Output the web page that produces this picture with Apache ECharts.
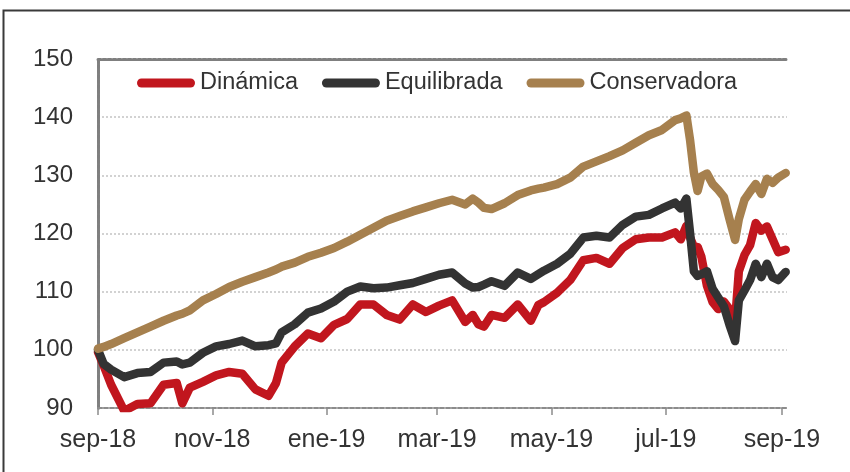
<!DOCTYPE html>
<html>
<head>
<meta charset="utf-8">
<script src="https://cdn.jsdelivr.net/npm/echarts@6/dist/echarts.min.js"></script>
<style>
  html, body { margin: 0; padding: 0; background: #fff; }
  #chart { width: 850px; height: 472px; }
</style>
</head>
<body>
<div id="chart"></div>
<script>
const dates = [
  "2018-09-01", "2018-09-04", "2018-09-08", "2018-09-15", "2018-09-22",
  "2018-09-29", "2018-10-06", "2018-10-13", "2018-10-16", "2018-10-20",
  "2018-10-27", "2018-11-03", "2018-11-10", "2018-11-17", "2018-11-24",
  "2018-12-01", "2018-12-05", "2018-12-08", "2018-12-15", "2018-12-22",
  "2018-12-29", "2019-01-05", "2019-01-12", "2019-01-19", "2019-01-26",
  "2019-02-02", "2019-02-09", "2019-02-16", "2019-02-23", "2019-03-02",
  "2019-03-09", "2019-03-16", "2019-03-20", "2019-03-23", "2019-03-26",
  "2019-03-30", "2019-04-06", "2019-04-13", "2019-04-20", "2019-04-24",
  "2019-04-27", "2019-05-04", "2019-05-11", "2019-05-18", "2019-05-25",
  "2019-06-01", "2019-06-08", "2019-06-15", "2019-06-22", "2019-06-29",
  "2019-07-06", "2019-07-09", "2019-07-12", "2019-07-14", "2019-07-16",
  "2019-07-18", "2019-07-20", "2019-07-23", "2019-07-26", "2019-07-29",
  "2019-08-01", "2019-08-04", "2019-08-07", "2019-08-09", "2019-08-12",
  "2019-08-15", "2019-08-18", "2019-08-21", "2019-08-24", "2019-08-27",
  "2019-08-30", "2019-09-03"
];

const dinamica = [
  99.6, 97.3, 94.0, 89.5, 90.7, 90.8, 94.0, 94.3, 90.8, 93.5,
  94.5, 95.6, 96.2, 95.9, 93.2, 92.1, 94.3, 97.8, 100.6, 102.8,
  102.0, 104.3, 105.3, 107.8, 107.8, 106.0, 105.2, 107.8, 106.5, 107.6,
  108.5, 104.8, 106.0, 104.4, 104.0, 106.0, 105.5, 107.8, 105.0, 107.7,
  108.2, 109.8, 112.0, 115.4, 115.8, 114.8, 117.5, 119.0, 119.3, 119.3,
  120.2, 119.0, 121.3, 119.3, 117.7, 117.7, 116.0, 111.0, 108.2, 107.0,
  108.3, 107.0, 105.0, 113.5, 116.3, 118.0, 121.8, 120.5, 121.2, 119.0,
  116.8, 117.2
];

const equilibrada = [
  100.0, 97.6, 96.6, 95.3, 96.0, 96.2, 97.8, 98.0, 97.5, 97.8,
  99.5, 100.6, 101.0, 101.6, 100.6, 100.8, 101.1, 103.0, 104.4, 106.4,
  107.1, 108.3, 110.0, 110.9, 110.6, 110.7, 111.1, 111.5, 112.2, 112.9,
  113.3, 111.4, 110.7, 110.8, 111.2, 111.8, 111.0, 113.3, 112.2, 113.0,
  113.6, 114.8, 116.5, 119.3, 119.6, 119.3, 121.5, 122.9, 123.2, 124.3,
  125.3, 124.3, 126.0, 120.0, 113.5, 112.7, 113.0, 113.5, 110.5, 109.0,
  107.5, 104.3, 101.5, 108.5, 110.2, 112.0, 114.8, 112.5, 114.8, 112.5,
  112.0, 113.4
];

const conservadora = [
  100.2, 100.5, 101.0, 102.0, 103.0, 104.0, 105.0, 105.9, 106.2, 106.8,
  108.5, 109.6, 110.8, 111.7, 112.5, 113.3, 113.8, 114.3, 115.0, 116.0,
  116.7, 117.5, 118.6, 119.8, 121.0, 122.2, 123.0, 123.8, 124.5, 125.2,
  125.8, 125.0, 126.0, 125.3, 124.4, 124.2, 125.2, 126.6, 127.4, 127.7,
  127.9, 128.5, 129.6, 131.5, 132.4, 133.3, 134.3, 135.6, 136.9, 137.8,
  139.5, 139.8, 140.3, 136.0, 130.5, 127.3, 129.8, 130.3, 128.5, 127.5,
  126.3, 122.5, 118.9, 122.5, 125.8, 127.2, 128.5, 126.8, 129.4, 128.7,
  129.6, 130.4
];

const seriesNames = ["Dinámica", "Equilibrada", "Conservadora"];
const seriesColors = ["#C1161E", "#333333", "#A6804E"];

const tickDates = ["2018-09-01", "2018-11-01", "2019-01-01", "2019-03-01", "2019-05-01", "2019-07-01", "2019-09-01"];
const tickLabels = ["sep-18", "nov-18", "ene-19", "mar-19", "may-19", "jul-19", "sep-19"];

// days since the first date, so the x axis can be a plain value axis
const DAY = 86400000;
const t0 = Date.UTC(2018, 8, 1);
function toDay(s) {
  const p = s.split("-").map(Number);
  return Math.round((Date.UTC(p[0], p[1] - 1, p[2]) - t0) / DAY);
}
const tickDays = tickDates.map(toDay);

const font = "'Liberation Sans', Arial, sans-serif";
const chart = echarts.init(document.getElementById("chart"));

const capsule = "path://M4.5,0 L53.5,0 A4.5,4.5 0 0 1 53.5,9 L4.5,9 A4.5,4.5 0 0 1 4.5,0 Z";

const values = [dinamica, equilibrada, conservadora];

chart.setOption({
  animation: false,
  backgroundColor: "#fff",
  graphic: [
    {
      type: "rect",
      shape: { x: 3.5, y: 10.5, width: 900, height: 600 },
      style: { fill: "none", stroke: "#3a3a3a", lineWidth: 2 },
      silent: true
    }
  ],
  grid: { left: 98, right: 63, top: 59, bottom: 64, containLabel: false },
  legend: {
    left: 132,
    top: 66,
    itemWidth: 58,
    itemHeight: 9,
    itemGap: 24,
    icon: capsule,
    textStyle: { fontFamily: font, fontSize: 23.5, color: "#333" },
    data: seriesNames
  },
  xAxis: [
    {
      type: "value",
      min: 0,
      max: 367.7,
      axisLine: { show: true, lineStyle: { color: "#8c8c8c", width: 2, type: [4, 2] } },
      axisTick: { show: true, customValues: tickDays, length: 7, lineStyle: { color: "#8c8c8c", width: 1.5 } },
      axisLabel: {
        customValues: tickDays,
        fontFamily: font,
        fontSize: 25,
        color: "#333",
        margin: 20,
        formatter: function (v) {
          const i = tickDays.indexOf(Math.round(v));
          return i >= 0 ? tickLabels[i] : "";
        }
      },
      splitLine: { show: false }
    },
    {
      type: "value",
      position: "top",
      min: 0,
      max: 1,
      axisLine: { show: true, lineStyle: { color: "#7f7f7f", width: 3, type: [3, 2] } },
      axisTick: { show: false },
      axisLabel: { show: false },
      splitLine: { show: false }
    }
  ],
  yAxis: [
    {
      type: "value",
      min: 90,
      max: 150,
      interval: 10,
      axisLine: { show: true, lineStyle: { color: "#7f7f7f", width: 3, type: [3, 2] } },
      axisTick: { show: false },
      axisLabel: { fontFamily: font, fontSize: 24, color: "#333", margin: 25 },
      splitLine: { show: true, lineStyle: { color: "#c4c4c4", width: 1.5, type: [2, 2] } }
    },
    {
      type: "value",
      position: "right",
      min: 90,
      max: 150,
      interval: 10,
      axisLine: { show: true, lineStyle: { color: "#7f7f7f", width: 3, type: [3, 2] } },
      axisTick: { show: false },
      axisLabel: { show: false },
      splitLine: { show: false }
    }
  ],
  series: seriesNames.map((name, k) => ({
    name: name,
    type: "line",
    xAxisIndex: 0,
    yAxisIndex: 0,
    symbol: "none",
    color: seriesColors[k],
    lineStyle: { width: 8.5, color: seriesColors[k], cap: "round", join: "round" },
    data: dates.map((d, i) => [toDay(d), values[k][i]])
  }))
});
</script>
</body>
</html>
